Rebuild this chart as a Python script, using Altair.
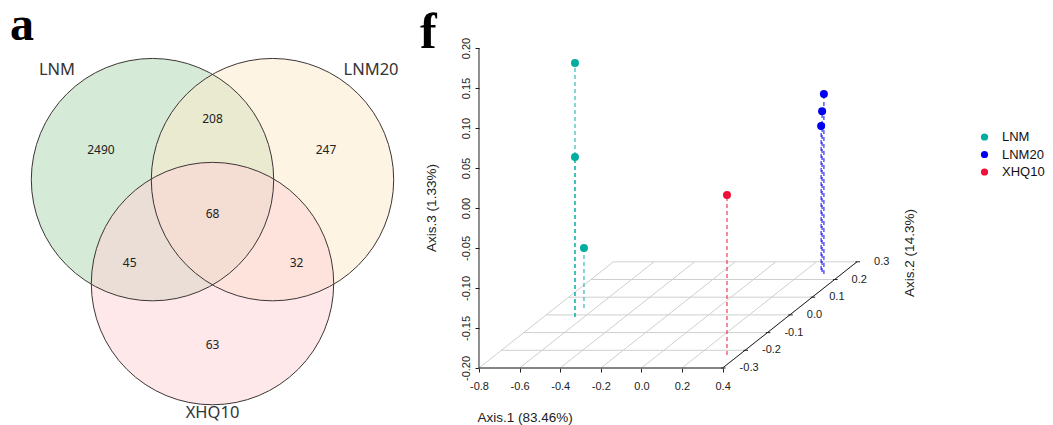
import altair as alt
import pandas as pd

# ---------------- Venn diagram (panel a) ----------------
venn_sets = ["LNM", "LNM20", "XHQ10"]
venn_cx = [-0.5, 0.5, 0.0]
venn_cy = [0.2887, 0.2887, -0.5774]
venn_radius = 1.01
venn_fills = ["#add5b1", "#fde9c9", "#fdd1d5"]

venn_counts = ["2490", "208", "247", "68", "45", "32", "63"]
venn_count_x = [-0.93, 0.0, 0.946, 0.0, -0.69, 0.70, 0.0]
venn_count_y = [0.536, 0.79, 0.536, 0.0, -0.406, -0.406, -1.09]

venn_label_x = [-1.296, 1.321, 0.0]
venn_label_y = [1.203, 1.203, -1.656]

# ---------------- PCoA 3D (panel f) ----------------
sample_group = ["LNM", "LNM", "LNM", "LNM20", "LNM20", "LNM20", "XHQ10"]
axis1 = [-0.645, -0.645, -0.657, 0.313, 0.292, 0.274, 0.341]
axis2 = [-0.012, -0.012, 0.039, 0.231, 0.242, 0.254, -0.227]
axis3 = [0.1175, 0.0, -0.125, 0.025, 0.001, -0.02, 0.0]
group_names = ["LNM", "LNM20", "XHQ10"]
group_colors = ["#00ad9f", "#0000ee", "#ee1038"]

x_ticks = [-0.8, -0.6, -0.4, -0.2, 0.0, 0.2, 0.4]
y_ticks = [-0.3, -0.2, -0.1, 0.0, 0.1, 0.2, 0.3]
z_ticks = [-0.2, -0.15, -0.1, -0.05, 0.0, 0.05, 0.1, 0.15, 0.2]

# ---------------- layout ----------------
W, H = 1037, 417
P_XDOM = [-3.120, 1.988]
P_YDOM = [-0.27125, 0.25]
V_XDOM = [-1.7042, 6.9375]
V_YDOM = [-1.756, 1.719]
DX = 224 / 203  # oblique projection of depth axis
DZ = 177 / 800
v_ppu = W / (V_XDOM[1] - V_XDOM[0])
p_ppu_x = W / (P_XDOM[1] - P_XDOM[0])

x0, x1 = x_ticks[0], x_ticks[-1]
y0, y1 = y_ticks[0], y_ticks[-1]
z0, z1 = z_ticks[0], z_ticks[-1]


def proj(x, y, z):
    return x + (y - y0) * DX, z + (y - y0) * DZ


def PX(field, axis=None):
    return alt.X(field, type="quantitative",
                 scale=alt.Scale(domain=P_XDOM, nice=False, zero=False), axis=axis)


def PY(field, axis=None):
    return alt.Y(field, type="quantitative",
                 scale=alt.Scale(domain=P_YDOM, nice=False, zero=False), axis=axis)


def VX(field):
    return alt.X(field, type="quantitative",
                 scale=alt.Scale(domain=V_XDOM, nice=False, zero=False), axis=None)


def VY(field):
    return alt.Y(field, type="quantitative",
                 scale=alt.Scale(domain=V_YDOM, nice=False, zero=False), axis=None)


# ----- Venn layers -----
venn_df = pd.DataFrame({"set": venn_sets, "cx": venn_cx, "cy": venn_cy,
                        "lx": venn_label_x, "ly": venn_label_y})
counts_df = pd.DataFrame({"n": venn_counts, "x": venn_count_x, "y": venn_count_y})
circle_size = (2 * venn_radius * v_ppu) ** 2

venn_fill_layers = [
    alt.Chart(venn_df.iloc[[i]]).mark_point(
        shape="circle", filled=True, opacity=1, fillOpacity=0.5, strokeWidth=0,
        size=circle_size, color=venn_fills[i]
    ).encode(x=VX("cx"), y=VY("cy"))
    for i in range(len(venn_sets))
]
venn_stroke = alt.Chart(venn_df).mark_point(
    shape="circle", filled=False, opacity=1, stroke="#3d3535", strokeWidth=1,
    size=circle_size
).encode(x=VX("cx"), y=VY("cy"))

venn_counts_layer = alt.Chart(counts_df).mark_text(
    font="Noto Sans", fontSize=12, color="#222222", align="center", baseline="middle"
).encode(x=VX("x"), y=VY("y"), text="n:N")

venn_names_layer = alt.Chart(venn_df).mark_text(
    font="Noto Sans", fontSize=16.5, color="#333333", align="center", baseline="middle"
).encode(x=VX("lx"), y=VY("ly"), text="set:N")

panel_a = alt.Chart(pd.DataFrame({"t": ["a"], "x": [-1.6875], "y": [1.4525]})).mark_text(
    font="Liberation Serif", fontWeight="bold", fontSize=48, color="#000000",
    align="left", baseline="alphabetic"
).encode(x=VX("x"), y=VY("y"), text="t:N")

# ----- PCoA layers -----
pts = pd.DataFrame({"group": sample_group, "x": axis1, "y": axis2, "z": axis3})
pts["sx"], pts["sz"] = proj(pts["x"], pts["y"], pts["z"])
pts["sx_f"], pts["sz_f"] = proj(pts["x"], pts["y"], z0)

grid_rows = []
for d in y_ticks:
    a, b = proj(x0, d, z0)
    c, e = proj(x1, d, z0)
    grid_rows.append({"sx": a, "sz": b, "sx2": c, "sz2": e})
for t in x_ticks:
    a, b = proj(t, y0, z0)
    c, e = proj(t, y1, z0)
    grid_rows.append({"sx": a, "sz": b, "sx2": c, "sz2": e})
grid_df = pd.DataFrame(grid_rows)

axis_rows = []
for (p, q) in [((x0, y0, z0), (x1, y0, z0)), ((x0, y0, z0), (x0, y0, z1)),
               ((x1, y0, z0), (x1, y1, z0))]:
    a, b = proj(*p)
    c, e = proj(*q)
    axis_rows.append({"sx": a, "sz": b, "sx2": c, "sz2": e})
axis_df = pd.DataFrame(axis_rows)

dtick_rows = []
for d in y_ticks:
    a, b = proj(x1, d, z0)
    dtick_rows.append({"sx": a - 1.5 / p_ppu_x, "sx2": a + 3 / p_ppu_x, "sz": b,
                       "lx": a + 17 / p_ppu_x, "label": f"{d:.1f}"})
dtick_df = pd.DataFrame(dtick_rows)

grid_layer = alt.Chart(grid_df).mark_rule(color="#cfcfcf", strokeWidth=1).encode(
    x=PX("sx"), y=PY("sz"), x2="sx2", y2="sz2")

axis_lines = alt.Chart(axis_df).mark_rule(color="#222222", strokeWidth=1).encode(
    x=PX("sx"), y=PY("sz"), x2="sx2", y2="sz2")

depth_ticks = alt.Chart(dtick_df).mark_rule(color="#222222", strokeWidth=1).encode(
    x=PX("sx"), x2="sx2", y=PY("sz"))
depth_labels = alt.Chart(dtick_df).mark_text(
    font="Liberation Sans", fontSize=11, color="#222222", align="left", baseline="middle"
).encode(x=PX("lx"), y=PY("sz"), text="label:N")

# real axes for Axis.1 (bottom) and Axis.3 (left), moved onto the 3D box
ax_x = alt.Axis(orient="bottom", values=x_ticks, format=".1f", offset=-57,
                domain=False, grid=False, tickSize=4, tickColor="#222222",
                labelFont="Liberation Sans", labelFontSize=11, labelColor="#222222",
                labelPadding=8, labelFlush=False, title=None,
                labelExpr="replace(datum.label, '\u2212', '-')")
ax_z = alt.Axis(orient="left", values=z_ticks, format=".2f", offset=-471,
                domain=False, grid=False, tickSize=4, tickColor="#222222",
                labelFont="Liberation Sans", labelFontSize=11, labelColor="#222222",
                labelAngle=270, labelAlign="center", labelBaseline="bottom",
                labelPadding=4, labelFlush=False, title=None,
                labelExpr="replace(datum.label, '\u2212', '-')")

axes_holder = alt.Chart(pd.DataFrame({"x": [x0], "z": [z0]})).mark_point(opacity=0).encode(
    x=PX("x", axis=ax_x), y=PY("z", axis=ax_z))

# drop lines drawn from the floor up so overlapping dashes stay in phase
drop_layers = [
    alt.Chart(pts[pts["group"] == g]).mark_rule(
        strokeWidth=1.3, strokeDash=[4, 3], opacity=0.75, color=group_colors[i]
    ).encode(x=PX("sx_f"), y=PY("sz_f"), y2="sz")
    for i, g in enumerate(group_names)
]

points = alt.Chart(pts).mark_circle(size=64, opacity=1).encode(
    x=PX("sx"), y=PY("sz"),
    color=alt.Color("group:N", scale=alt.Scale(domain=group_names, range=group_colors),
                    legend=alt.Legend(orient="none", legendX=970, legendY=122.5, title=None,
                                      symbolType="circle", symbolSize=52,
                                      labelFont="Liberation Sans",
                                      labelFontSize=13, labelColor="#111111",
                                      labelOffset=11, rowPadding=3.5, padding=0)))

titles_df = pd.DataFrame({
    "t": ["Axis.1 (83.46%)", "Axis.3 (1.33%)", "Axis.2 (14.3%)"],
    "x": [-0.573, -1.0315, 1.323],
    "y": [-0.2625, 0.0, -0.05625],
})
title_h = alt.Chart(titles_df.iloc[[0]]).mark_text(
    font="Liberation Sans", fontSize=13.5, color="#222222", align="center", baseline="middle"
).encode(x=PX("x"), y=PY("y"), text="t:N")
title_v = alt.Chart(titles_df.iloc[[1, 2]]).mark_text(
    font="Liberation Sans", fontSize=13.5, color="#222222", align="center", baseline="middle",
    angle=270
).encode(x=PX("x"), y=PY("y"), text="t:N")

panel_f = alt.Chart(pd.DataFrame({"t": ["f"], "x": [-1.0906], "y": [0.2]})).mark_text(
    font="Liberation Serif", fontWeight="bold", fontSize=50, color="#000000",
    align="left", baseline="alphabetic"
).encode(x=PX("x"), y=PY("y"), text="t:N")

chart = alt.layer(
    *venn_fill_layers, venn_stroke, venn_counts_layer, venn_names_layer, panel_a,
    grid_layer, axis_lines, depth_ticks, depth_labels, axes_holder,
    *drop_layers, points, title_h, title_v, panel_f,
).resolve_scale(x="independent", y="independent").properties(
    width=W, height=H, padding=0, autosize=alt.AutoSizeParams(type="none")
).configure_view(stroke=None)

chart.save("out.html", embed_options={"renderer": "svg", "actions": False})
